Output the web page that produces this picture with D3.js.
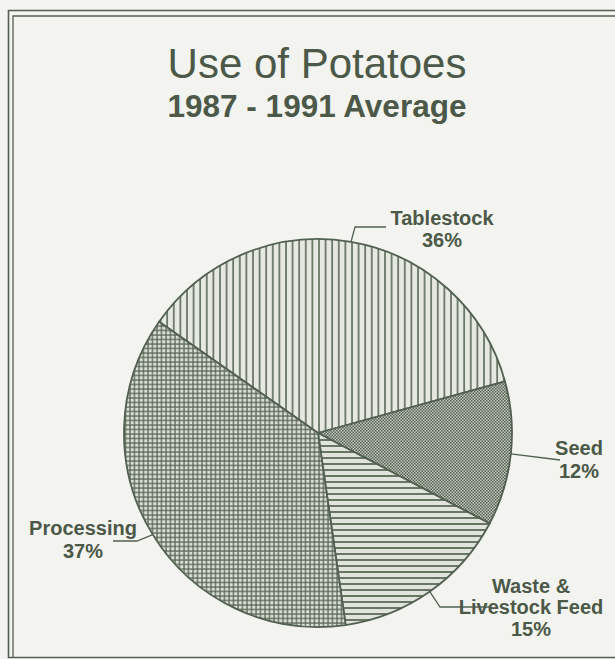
<!DOCTYPE html>
<html>
<head>
<meta charset="utf-8">
<script src="https://cdn.jsdelivr.net/npm/d3@7"></script>
<style>
  html, body { margin: 0; padding: 0; background: #f3f4ef; }
  svg { display: block; font-family: "Liberation Sans", Arial, sans-serif; }
</style>
</head>
<body>
<div id="chart"></div>
<script>
// data
var categories = ["Tablestock", "Seed", "Waste &|Livestock Feed", "Processing"];
var shares = [36, 12, 15, 37];
var fills = ["vlines", "checker", "hlines", "grid"];

// label placement (text anchor x, baselines, leader bend points)
var labelLayout = [
  {x: [442, 442], y: [225, 247], leader: [[355, 227], [386, 227]]},
  {x: [579, 579], y: [455, 478], leader: [[560, 460]]},
  {x: [531, 531, 531], y: [593, 614, 636], leader: [[440, 607], [490, 607]]},
  {x: [83, 83], y: [535, 558], leader: [[137, 541], [113, 541]]}
];

var width = 615, height = 659;
var ink = "#52604f", textInk = "#4c5848";
var cx = 318, cy = 433, radius = 194;
var startDeg = -55;

var svg = d3.select("#chart").append("svg")
  .attr("width", width).attr("height", height);

svg.append("rect").attr("width", width).attr("height", height).attr("fill", "#f3f4ef");

// fill patterns
var defs = svg.append("defs");
var p;
p = defs.append("pattern").attr("id", "vlines").attr("patternUnits", "userSpaceOnUse")
  .attr("width", 6.6).attr("height", 10);
p.append("rect").attr("width", 6.6).attr("height", 10).attr("fill", "#e6e9e2");
p.append("line").attr("x1", 1).attr("x2", 1).attr("y1", 0).attr("y2", 10)
  .attr("stroke", ink).attr("stroke-width", 1.5);

p = defs.append("pattern").attr("id", "checker").attr("patternUnits", "userSpaceOnUse")
  .attr("width", 3).attr("height", 3);
p.append("rect").attr("width", 3).attr("height", 3).attr("fill", "#c4c9c0");
p.append("rect").attr("width", 1.5).attr("height", 1.5).attr("fill", ink);
p.append("rect").attr("x", 1.5).attr("y", 1.5).attr("width", 1.5).attr("height", 1.5).attr("fill", ink);

p = defs.append("pattern").attr("id", "hlines").attr("patternUnits", "userSpaceOnUse")
  .attr("width", 10).attr("height", 6);
p.append("rect").attr("width", 10).attr("height", 6).attr("fill", "#e1e4dd");
p.append("line").attr("x1", 0).attr("x2", 10).attr("y1", 1).attr("y2", 1)
  .attr("stroke", "#687664").attr("stroke-width", 2);

p = defs.append("pattern").attr("id", "grid").attr("patternUnits", "userSpaceOnUse")
  .attr("width", 4.5).attr("height", 4.5);
p.append("rect").attr("width", 4.5).attr("height", 4.5).attr("fill", "#d9ddd5");
p.append("line").attr("x1", 1).attr("x2", 1).attr("y1", 0).attr("y2", 4.5)
  .attr("stroke", ink).attr("stroke-width", 1.2);
p.append("line").attr("x1", 0).attr("x2", 4.5).attr("y1", 1).attr("y2", 1)
  .attr("stroke", ink).attr("stroke-width", 1.2);

// frame (double rule on top and left)
var frame = svg.append("g").attr("fill", "none").attr("stroke", ink);
frame.append("path").attr("d", "M620,10.5H8.5V657.5H620").attr("stroke-width", 1.6);
frame.append("path").attr("d", "M620,16H13V657").attr("stroke-width", 1.3);

// titles
svg.append("text").attr("x", 317).attr("y", 78).attr("text-anchor", "middle")
  .attr("font-size", 42).attr("fill", textInk).text("Use of Potatoes");
svg.append("text").attr("x", 317).attr("y", 117).attr("text-anchor", "middle")
  .attr("font-size", 31.5).attr("font-weight", "bold").attr("fill", textInk)
  .text("1987 - 1991 Average");

// pie
var rad = Math.PI / 180;
var pie = d3.pie().sort(null)
  .startAngle(startDeg * rad).endAngle(startDeg * rad + 2 * Math.PI);
var arcs = pie(shares);
var arc = d3.arc().innerRadius(0).outerRadius(radius);

var g = svg.append("g").attr("transform", "translate(" + cx + "," + cy + ")");
g.selectAll("path.slice").data(arcs).enter().append("path")
  .attr("class", "slice")
  .attr("d", arc)
  .attr("fill", function(d, i) { return "url(#" + fills[i] + ")"; })
  .attr("stroke", ink).attr("stroke-width", 1.8).attr("stroke-linejoin", "round");

// leaders and labels
var line = d3.line();
arcs.forEach(function(d, i) {
  var a = (d.startAngle + d.endAngle) / 2;
  var edge = [cx + Math.sin(a) * radius, cy - Math.cos(a) * radius];
  var pts = [edge].concat(labelLayout[i].leader);
  svg.append("path").attr("d", line(pts)).attr("fill", "none")
    .attr("stroke", ink).attr("stroke-width", 1.3);

  var rows = categories[i].split("|").concat([shares[i] + "%"]);
  rows.forEach(function(t, j) {
    svg.append("text")
      .attr("x", labelLayout[i].x[j]).attr("y", labelLayout[i].y[j])
      .attr("text-anchor", "middle").attr("font-size", 20).attr("font-weight", "bold")
      .attr("fill", textInk).text(t);
  });
});
</script>
</body>
</html>
